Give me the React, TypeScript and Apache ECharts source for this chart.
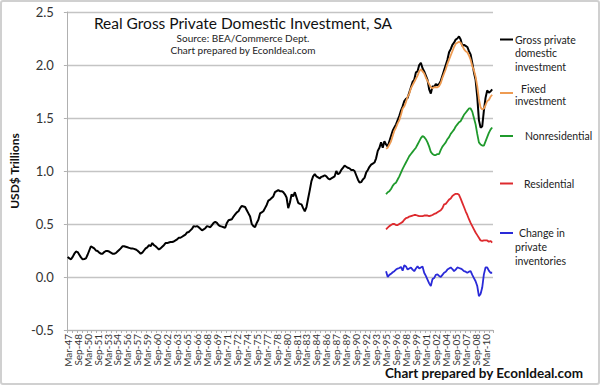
import React, { useEffect, useRef } from "react";
import * as echarts from "echarts";

// Quarterly categories from 1947Q1 to 2011Q1
const START_YEAR = 1947;
const QUARTER_MONTHS = ["Mar", "Jun", "Sep", "Dec"];
const N_QUARTERS = 257;
const categories: string[] = [];
for (let i = 0; i < N_QUARTERS; i++) {
  const y = START_YEAR + Math.floor(i / 4);
  categories.push(QUARTER_MONTHS[i % 4] + "-" + String(y % 100).padStart(2, "0"));
}

// Gross private domestic investment, trillions (1947Q1 .. 2011Q1)
const gpdi: number[] = [
  0.19, 0.175, 0.167, 0.19,
  0.22, 0.24, 0.235, 0.21,
  0.185, 0.167, 0.17, 0.176,
  0.21, 0.25, 0.29, 0.28,
  0.27, 0.25, 0.245, 0.23,
  0.22, 0.22, 0.235, 0.245,
  0.245, 0.24, 0.23, 0.22,
  0.22, 0.225, 0.24, 0.255,
  0.27, 0.29, 0.29, 0.285,
  0.28, 0.275, 0.27, 0.27,
  0.265, 0.26, 0.25, 0.235,
  0.22, 0.23, 0.25, 0.27,
  0.28, 0.3, 0.29, 0.32,
  0.3, 0.29, 0.275, 0.26,
  0.27, 0.285, 0.3, 0.32,
  0.32, 0.325, 0.33, 0.33,
  0.335, 0.345, 0.355, 0.37,
  0.37, 0.38, 0.39, 0.4,
  0.42, 0.425, 0.44, 0.455,
  0.48, 0.475, 0.48, 0.47,
  0.455, 0.44, 0.45, 0.46,
  0.48, 0.475, 0.47, 0.49,
  0.51, 0.52, 0.51, 0.49,
  0.48, 0.475, 0.47, 0.465,
  0.51, 0.535, 0.54, 0.545,
  0.57, 0.59, 0.61, 0.62,
  0.65, 0.67, 0.665, 0.66,
  0.63, 0.6, 0.57, 0.5,
  0.48, 0.47, 0.51, 0.54,
  0.6, 0.61, 0.62, 0.65,
  0.68, 0.72, 0.73, 0.745,
  0.76, 0.8, 0.81, 0.82,
  0.81, 0.81, 0.8, 0.78,
  0.75, 0.65, 0.7, 0.78,
  0.76, 0.8, 0.75, 0.7,
  0.69, 0.685, 0.65, 0.62,
  0.66, 0.74, 0.82, 0.905,
  0.95, 0.97, 0.95, 0.94,
  0.93, 0.945, 0.95, 0.96,
  0.95, 0.93, 0.92, 0.93,
  0.94, 0.95, 1.0, 0.97,
  0.98, 1.01, 1.03, 1.05,
  1.04, 1.03, 1.025, 1.01,
  1.01, 1.0, 0.96, 0.92,
  0.89, 0.895, 0.92, 0.935,
  0.985, 1.01, 1.04, 1.06,
  1.07, 1.08, 1.12, 1.19,
  1.22, 1.27, 1.22, 1.28,
  1.25, 1.23, 1.28, 1.33,
  1.38, 1.41, 1.44, 1.48,
  1.52, 1.57, 1.61, 1.66,
  1.68, 1.69, 1.74, 1.79,
  1.84, 1.86, 1.93, 1.94,
  2.0, 2.02, 1.97, 1.94,
  1.9, 1.86, 1.77, 1.73,
  1.8, 1.79, 1.82, 1.81,
  1.82, 1.85, 1.9, 1.95,
  2.0, 2.05, 2.12, 2.15,
  2.19, 2.21, 2.24, 2.25,
  2.27, 2.24, 2.18, 2.19,
  2.18, 2.17, 2.13, 2.1,
  2.02, 1.93, 1.86, 1.7,
  1.48, 1.41, 1.42, 1.57,
  1.69, 1.76, 1.74, 1.75,
  1.77,
];

// Component series start at 1995Q1 (index 192)
const COMPONENT_START = 192;

const fixedInv: number[] = [
  1.21, 1.22, 1.25, 1.28,
  1.33, 1.38, 1.41, 1.45,
  1.48, 1.53, 1.59, 1.61,
  1.65, 1.7, 1.73, 1.78,
  1.81, 1.84, 1.87, 1.9,
  1.94, 1.96, 1.94, 1.92,
  1.88, 1.85, 1.82, 1.79,
  1.78, 1.79, 1.79, 1.79,
  1.8, 1.83, 1.88, 1.92,
  1.96, 2.01, 2.05, 2.09,
  2.13, 2.17, 2.2, 2.21,
  2.22, 2.21, 2.18, 2.15,
  2.13, 2.12, 2.09, 2.05,
  1.99, 1.95, 1.89, 1.8,
  1.68, 1.6, 1.58, 1.59,
  1.62, 1.66, 1.67, 1.7,
  1.72,
];

const nonresidential: number[] = [
  0.78, 0.8, 0.81, 0.83,
  0.86, 0.88, 0.89, 0.92,
  0.95, 0.985, 1.02, 1.05,
  1.08, 1.11, 1.14, 1.16,
  1.18, 1.2, 1.22, 1.25,
  1.28, 1.31, 1.33, 1.32,
  1.3, 1.27, 1.23, 1.18,
  1.16, 1.15, 1.15, 1.16,
  1.16, 1.2, 1.23, 1.25,
  1.27, 1.3, 1.32, 1.35,
  1.37, 1.39, 1.42, 1.44,
  1.46, 1.47, 1.5, 1.53,
  1.55, 1.57, 1.59, 1.59,
  1.56, 1.5, 1.44, 1.35,
  1.27, 1.25, 1.24, 1.24,
  1.28, 1.32, 1.36, 1.39,
  1.41,
];

const residential: number[] = [
  0.45, 0.465, 0.48, 0.49,
  0.5, 0.5, 0.49, 0.49,
  0.5, 0.51, 0.52, 0.54,
  0.555, 0.56, 0.57, 0.575,
  0.58, 0.585, 0.585, 0.58,
  0.575, 0.575, 0.575, 0.58,
  0.58, 0.58, 0.575, 0.58,
  0.585, 0.595, 0.6, 0.61,
  0.62, 0.63, 0.65, 0.685,
  0.69, 0.71, 0.73, 0.74,
  0.765, 0.775, 0.785, 0.785,
  0.775, 0.74, 0.7, 0.66,
  0.62, 0.585, 0.545, 0.51,
  0.48, 0.45, 0.42, 0.395,
  0.37, 0.345, 0.34, 0.345,
  0.345, 0.345, 0.333, 0.34,
  0.325,
];

const inventories: number[] = [
  0.054, 0.0, 0.02, 0.03,
  0.045, 0.055, 0.07, 0.08,
  0.085, 0.095, 0.06, 0.11,
  0.1, 0.07, 0.08, 0.09,
  0.07, 0.055, 0.08, 0.1,
  0.08, 0.09, 0.1, 0.04,
  0.01, -0.025, -0.06, -0.085,
  -0.02, -0.01, 0.02, 0.025,
  0.01, 0.0, 0.02, 0.04,
  0.05, 0.07, 0.08, 0.09,
  0.075, 0.055, 0.07, 0.09,
  0.085, 0.08, 0.07, 0.055,
  0.05, 0.04, 0.05, 0.055,
  0.02, -0.01, -0.04, -0.085,
  -0.18, -0.16, -0.1, 0.025,
  0.09, 0.09, 0.06, 0.04,
  0.04,
];

const Y_TICKS = { min: -0.5, max: 2.5, interval: 0.5 };

const SERIES_NAMES = [
  "Gross private domestic investment",
  "Fixed investment",
  "Nonresidential",
  "Residential",
  "Change in private inventories",
];
const COLORS = ["#000000", "#EE9B52", "#1F9A2C", "#DD2A2E", "#2A2AD8"];

const FONT = "Lato, 'Open Sans', sans-serif";

function pad(arr: number[]): (number | null)[] {
  const out: (number | null)[] = new Array(COMPONENT_START).fill(null);
  return out.concat(arr);
}

export default function App() {
  const ref = useRef<HTMLDivElement>(null);

  useEffect(() => {
    document.body.style.margin = "0";
    if (!ref.current) return;
    const chart = echarts.init(ref.current, undefined, { renderer: "svg" });

    const datasets = [gpdi, pad(fixedInv), pad(nonresidential), pad(residential), pad(inventories)];

    const legendLine = (y: number, color: string) => ({
      type: "line",
      shape: { x1: 500, y1: y, x2: 513, y2: y },
      style: { stroke: color, lineWidth: 2 },
    });
    const legendText = (x: number, y: number, text: string) => ({
      type: "text",
      x,
      y,
      style: {
        text,
        font: `10.5px ${FONT}`,
        fill: "#222",
        verticalAlign: "middle",
      },
    });

    chart.setOption({
      animation: false,
      backgroundColor: "#ffffff",
      grid: { left: 57, right: 107, top: 12, bottom: 55, containLabel: false },
      xAxis: {
        type: "category",
        data: categories,
        boundaryGap: true,
        axisLine: { onZero: false, lineStyle: { color: "#B0B0B0", width: 1 } },
        axisTick: { show: true, interval: 2, length: 3, lineStyle: { color: "#B0B0B0", width: 1 } },
        axisLabel: {
          interval: 5,
          rotate: 90,
          fontSize: 10,
          fontFamily: FONT,
          color: "#333",
          margin: 4,
        },
        splitLine: { show: false },
      },
      yAxis: {
        type: "value",
        min: Y_TICKS.min,
        max: Y_TICKS.max,
        interval: Y_TICKS.interval,
        name: "USD$ Trillions",
        nameLocation: "middle",
        nameRotate: 90,
        nameGap: 38,
        nameTextStyle: { fontSize: 12, fontWeight: "bold", fontFamily: FONT, color: "#111" },
        axisLine: { show: true, lineStyle: { color: "#B0B0B0", width: 1 } },
        axisTick: { show: true, length: 3, lineStyle: { color: "#B0B0B0", width: 1 } },
        axisLabel: {
          fontSize: 13,
          fontFamily: FONT,
          color: "#333",
          margin: 13,
          formatter: (v: number) => v.toFixed(1),
        },
        splitLine: { show: true, lineStyle: { color: "#C4C4C4", width: 1.3 } },
      },
      series: datasets.map((d, i) => ({
        name: SERIES_NAMES[i],
        type: "line",
        data: d,
        showSymbol: false,
        symbol: "none",
        connectNulls: false,
        lineStyle: { color: COLORS[i], width: i === 0 ? 2 : 1.8 },
        itemStyle: { color: COLORS[i] },
        z: 2 + i,
      })),
      graphic: [
        {
          type: "text",
          x: 243,
          y: 23,
          style: {
            text: "Real Gross Private Domestic Investment, SA",
            font: `15.5px ${FONT}`,
            fill: "#111",
            align: "center",
            verticalAlign: "middle",
          },
        },
        {
          type: "text",
          x: 243,
          y: 37.5,
          style: {
            text: "Source: BEA/Commerce Dept.",
            font: `10px ${FONT}`,
            fill: "#222",
            align: "center",
            verticalAlign: "middle",
          },
        },
        {
          type: "text",
          x: 243,
          y: 49.5,
          style: {
            text: "Chart prepared by EconIdeal.com",
            font: `10px ${FONT}`,
            fill: "#222",
            align: "center",
            verticalAlign: "middle",
          },
        },
        legendLine(39.5, COLORS[0]),
        legendText(515, 39.5, "Gross private"),
        legendText(515, 53, "domestic"),
        legendText(515, 66.5, "investment"),
        legendLine(93, COLORS[1]),
        legendText(521, 88.5, "Fixed"),
        legendText(515, 101, "investment"),
        legendLine(136, COLORS[2]),
        legendText(525, 136, "Nonresidential"),
        legendLine(183.5, COLORS[3]),
        legendText(524, 183.5, "Residential"),
        legendLine(233, COLORS[4]),
        legendText(519, 233, "Change in"),
        legendText(515, 247, "private"),
        legendText(515, 260.5, "inventories"),
        {
          type: "text",
          x: 583,
          y: 372.5,
          style: {
            text: "Chart prepared by EconIdeal.com",
            font: `bold 13.5px ${FONT}`,
            fill: "#111",
            align: "right",
            verticalAlign: "middle",
          },
        },
      ],
    });

    return () => chart.dispose();
  }, []);

  return (
    <div style={{ position: "relative", width: 600, height: 385 }}>
      <div ref={ref} style={{ width: 600, height: 385 }} />
      <div
        style={{
          position: "absolute",
          left: 0,
          top: 0,
          width: 600,
          height: 385,
          boxSizing: "border-box",
          border: "2px solid #D0D0D0",
          borderRadius: 3,
          pointerEvents: "none",
        }}
      />
    </div>
  );
}
